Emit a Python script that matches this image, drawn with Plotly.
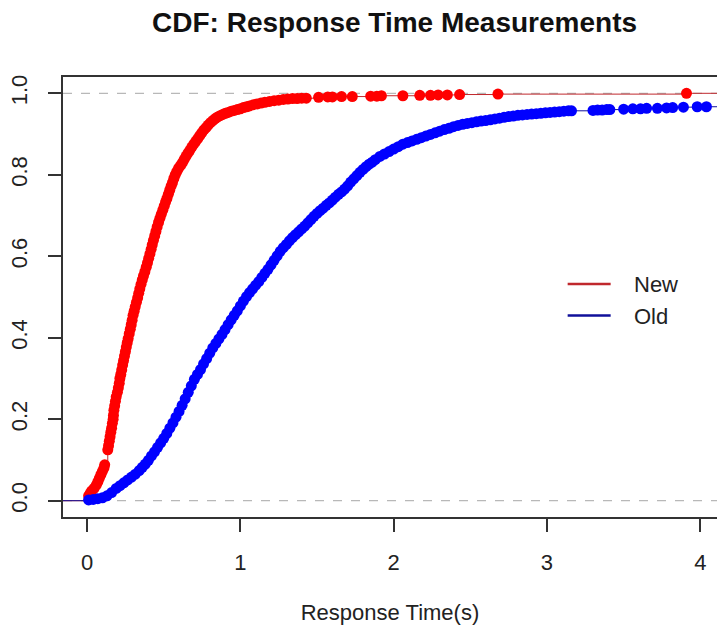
import plotly.graph_objects as go

# ECDF points: response time (s) and cumulative share
new_time = [0.01, 0.02, 0.03, 0.045, 0.06, 0.07, 0.08, 0.09, 0.10, 0.11, 0.115,
            0.135, 0.14, 0.145, 0.15, 0.155, 0.16, 0.165, 0.17, 0.172, 0.175, 0.18,
            0.185, 0.19, 0.198, 0.204, 0.21, 0.214, 0.22, 0.226, 0.232, 0.238, 0.244,
            0.25, 0.256, 0.262, 0.268, 0.275, 0.282, 0.288, 0.294, 0.30, 0.307, 0.314,
            0.322, 0.33, 0.337, 0.344, 0.352, 0.36, 0.368, 0.377, 0.386, 0.394, 0.402,
            0.41, 0.418, 0.425, 0.433, 0.441, 0.449, 0.457, 0.466, 0.475, 0.484, 0.494,
            0.503, 0.512, 0.521, 0.53, 0.539, 0.548, 0.557, 0.566, 0.575, 0.585, 0.597,
            0.61, 0.622, 0.634, 0.646, 0.658, 0.67, 0.683, 0.696, 0.709, 0.722, 0.735,
            0.748, 0.762, 0.776, 0.79, 0.805, 0.82, 0.836, 0.852, 0.868, 0.885, 0.902,
            0.92, 0.94, 0.96, 0.98, 1.0, 1.02, 1.04, 1.06, 1.085, 1.11, 1.135, 1.16,
            1.19, 1.22, 1.25, 1.28, 1.31, 1.34, 1.37, 1.40, 1.43,
            1.51, 1.57, 1.60, 1.66, 1.73, 1.85, 1.89, 1.92, 2.06, 2.17, 2.24, 2.29,
            2.35, 2.43, 2.68, 3.91]
new_cdf = [0.012, 0.018, 0.024, 0.03, 0.038, 0.046, 0.055, 0.064, 0.072, 0.08, 0.088,
           0.125, 0.135, 0.146, 0.157, 0.168, 0.178, 0.19, 0.2, 0.21, 0.222, 0.233,
           0.244, 0.255, 0.266, 0.277, 0.288, 0.3, 0.31, 0.321, 0.333, 0.344, 0.355,
           0.366, 0.377, 0.388, 0.398, 0.41, 0.421, 0.432, 0.443, 0.455, 0.465, 0.476,
           0.487, 0.498, 0.509, 0.52, 0.531, 0.542, 0.552, 0.562, 0.573, 0.584, 0.595,
           0.606, 0.617, 0.628, 0.639, 0.65, 0.661, 0.672, 0.683, 0.693, 0.703, 0.713,
           0.723, 0.733, 0.742, 0.752, 0.762, 0.772, 0.781, 0.791, 0.8, 0.808, 0.816,
           0.823, 0.83, 0.838, 0.846, 0.853, 0.86, 0.868, 0.875, 0.882, 0.889, 0.896,
           0.903, 0.91, 0.916, 0.922, 0.928, 0.933, 0.938, 0.942, 0.945, 0.948, 0.951,
           0.953, 0.956, 0.958, 0.96, 0.962, 0.965, 0.967, 0.969, 0.972, 0.974, 0.976, 0.978,
           0.98, 0.982, 0.983, 0.985, 0.986, 0.987, 0.987, 0.988, 0.988,
           0.990, 0.991, 0.991, 0.992, 0.992, 0.993, 0.993, 0.994, 0.994, 0.995, 0.995, 0.996,
           0.996, 0.997, 0.998, 1.0]

old_time = [0.01, 0.04, 0.07, 0.10, 0.13, 0.16, 0.19, 0.215, 0.24, 0.265, 0.29, 0.315,
            0.34, 0.36, 0.38, 0.40, 0.42, 0.44, 0.46, 0.48, 0.50, 0.52, 0.54, 0.56,
            0.58, 0.60, 0.62, 0.64, 0.66, 0.68, 0.70, 0.72, 0.74, 0.76, 0.78, 0.80,
            0.82, 0.84, 0.86, 0.88, 0.90, 0.92, 0.94, 0.96, 0.98, 1.00, 1.02, 1.04,
            1.06, 1.08, 1.10, 1.12, 1.14, 1.16, 1.18, 1.20, 1.22, 1.24, 1.26, 1.28,
            1.30, 1.32, 1.34, 1.36, 1.38, 1.40, 1.42, 1.44, 1.46, 1.48, 1.50, 1.52,
            1.54, 1.56, 1.58, 1.60, 1.62, 1.64, 1.66, 1.68, 1.70, 1.72, 1.74, 1.76,
            1.78, 1.80, 1.82, 1.84, 1.86, 1.88, 1.91, 1.94, 1.97, 2.00, 2.03, 2.06,
            2.09, 2.12, 2.15, 2.18, 2.21, 2.24, 2.27, 2.30, 2.33, 2.36, 2.39, 2.42,
            2.45, 2.48, 2.51, 2.54, 2.57, 2.60, 2.63, 2.66, 2.69, 2.72, 2.75, 2.78,
            2.81, 2.84, 2.87, 2.90, 2.93, 2.96, 2.99, 3.02, 3.05, 3.08, 3.11, 3.14, 3.16,
            3.30, 3.33, 3.36, 3.39, 3.41, 3.50, 3.56, 3.61, 3.65, 3.72, 3.78, 3.82,
            3.89, 3.98, 4.04, 4.25]
old_cdf = [0.002, 0.003, 0.005, 0.007, 0.012, 0.02, 0.03, 0.037, 0.044, 0.051, 0.058, 0.065,
           0.074, 0.082, 0.09, 0.099, 0.11, 0.12, 0.131, 0.142, 0.153, 0.165, 0.178, 0.191,
           0.205, 0.219, 0.234, 0.25, 0.266, 0.282, 0.298, 0.31, 0.322, 0.336, 0.349, 0.362,
           0.375, 0.386, 0.397, 0.408, 0.42, 0.432, 0.444, 0.455, 0.466, 0.478, 0.49, 0.501,
           0.511, 0.52, 0.529, 0.538, 0.548, 0.558, 0.568, 0.579, 0.59, 0.601, 0.612, 0.621,
           0.629, 0.638, 0.646, 0.653, 0.66, 0.667, 0.674, 0.682, 0.69, 0.698, 0.705, 0.712,
           0.718, 0.725, 0.731, 0.738, 0.745, 0.752, 0.758, 0.765, 0.773, 0.782, 0.79, 0.798,
           0.806, 0.813, 0.82, 0.826, 0.831, 0.837, 0.845, 0.851, 0.857, 0.863, 0.869, 0.875,
           0.879, 0.883, 0.887, 0.891, 0.895, 0.899, 0.903, 0.907, 0.911, 0.914, 0.918, 0.921,
           0.924, 0.926, 0.928, 0.93, 0.932, 0.933, 0.935, 0.937, 0.939, 0.941, 0.943, 0.944,
           0.946, 0.947, 0.948, 0.949, 0.95, 0.951, 0.952, 0.953, 0.954, 0.955, 0.956, 0.957, 0.957,
           0.958, 0.959, 0.959, 0.96, 0.96, 0.961, 0.962, 0.962, 0.963, 0.963, 0.964, 0.965,
           0.966, 0.967, 0.967, 0.968]

x_ticks = [0, 1, 2, 3, 4]
y_ticks = [0.0, 0.2, 0.4, 0.6, 0.8, 1.0]
x_range = [-0.157, 4.109]
y_range = [-0.04, 1.04]

FONT = "Liberation Sans, Arial, sans-serif"

fig = go.Figure()

series = [("New", new_time, new_cdf, "#ff0000", "#c0282d"),
          ("Old", old_time, old_cdf, "#0000ff", "#10109a")]

for name, xs, ys, pt_col, ln_col in series:
    # step line of the ecdf, stretched to both plot edges like R does
    fig.add_trace(go.Scatter(x=[x_range[0]] + xs + [x_range[1]], y=[0] + ys + [ys[-1]],
                             mode="lines", line=dict(color=ln_col, width=1, shape="hv"),
                             showlegend=False, hoverinfo="skip"))
    fig.add_trace(go.Scatter(x=xs, y=ys, mode="markers", name=name,
                             marker=dict(color=pt_col, size=11, line=dict(width=0)),
                             showlegend=False))

# legend only shows the lines
for name, xs, ys, pt_col, ln_col in series:
    fig.add_trace(go.Scatter(x=[None], y=[None], mode="lines",
                             name="&nbsp;&nbsp;&nbsp;" + name,
                             line=dict(color=ln_col, width=2.5)))

# dashed reference lines at 0 and 1
for h in [0, 1]:
    fig.add_shape(type="line", xref="paper", x0=0, x1=1, yref="y", y0=h, y1=h,
                  line=dict(color="#b8b8b8", width=1.2, dash="dash"), layer="below")

fig.update_layout(
    width=717, height=630,
    margin=dict(l=63, r=0, t=77, b=113, autoexpand=False),
    paper_bgcolor="white", plot_bgcolor="white",
    font=dict(family=FONT, size=22, color="#222222"),
    title=dict(text="<b>CDF: Response Time Measurements</b>", x=0.507, xref="paper",
               y=1 - 22 / 630, yref="container", yanchor="middle",
               font=dict(size=28, color="#111111"), automargin=False),
    legend=dict(x=0.764, y=0.493, xanchor="left", yanchor="middle",
                bgcolor="rgba(0,0,0,0)", borderwidth=0, itemwidth=43,
                font=dict(size=22, color="#222222")),
)

fig.update_xaxes(range=x_range, tickvals=x_ticks, ticks="outside", ticklen=13,
                 tickwidth=1.5, tickcolor="#333333", showline=True, linecolor="#333333",
                 linewidth=1.5, mirror=True, showgrid=False, zeroline=False,
                 ticklabelstandoff=12, automargin=False,
                 title=dict(text="Response Time(s)", standoff=30, font=dict(size=22)))
fig.update_yaxes(range=y_range, tickvals=y_ticks, tickformat=".1f", tickangle=-90,
                 ticks="outside", ticklen=13, tickwidth=1.5, tickcolor="#333333",
                 showline=True, linecolor="#333333", linewidth=1.5, mirror=False,
                 showgrid=False, zeroline=False, ticklabelstandoff=12, automargin=False)

# the page body has a default 8px margin; drop it so the figure fills the window
fig.write_html("out.html", config={"displayModeBar": False},
               post_script="document.body.style.margin='0';")
